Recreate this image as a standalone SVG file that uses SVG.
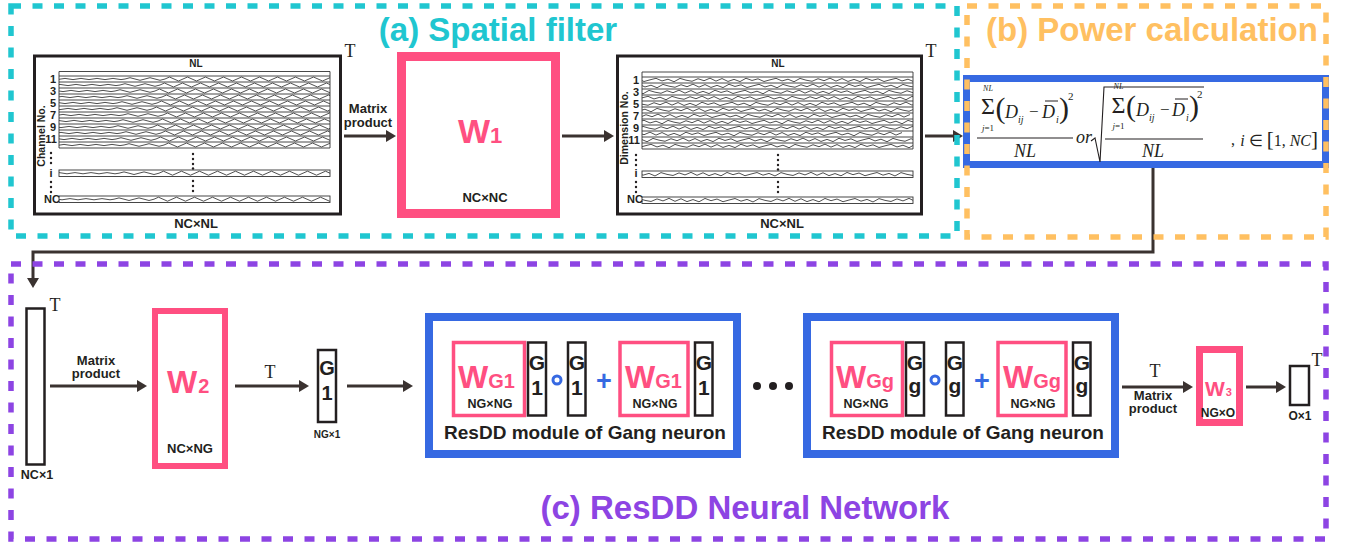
<svg xmlns="http://www.w3.org/2000/svg" width="1345" height="546" viewBox="0 0 1345 546">
<defs>
<style>
.sans{font-family:"Liberation Sans",Arial,sans-serif;font-weight:bold;fill:#231f20}
.serif{font-family:"Liberation Serif","Times New Roman",serif;fill:#231f20}
.it{font-style:italic}
.title{font-family:"Liberation Sans",Arial,sans-serif;font-weight:bold;font-size:33px;text-anchor:middle}
.frame{fill:none;stroke-width:5.5;stroke-dasharray:10 11.5}
.panel{fill:#fff;stroke:#231f20;stroke-width:3}
.strip{fill:none;stroke:#333;stroke-width:0.9}
.wave{fill:none;stroke:#222;stroke-width:0.8;stroke-linejoin:round}
.pink{fill:#fff;stroke:#ff4f81}
.vec{fill:#fff;stroke:#231f20;stroke-width:2.5}
.blue{fill:#fff;stroke:#3669e2;stroke-width:8}
.conn{fill:none;stroke:#3a3230;stroke-width:3}
.w{font-family:"Liberation Sans",Arial,sans-serif;font-weight:bold;fill:#ff4f81}
.mid{text-anchor:middle}
.end{text-anchor:end}
.T{font-family:"Liberation Serif","Times New Roman",serif;font-size:18px;fill:#231f20;text-anchor:middle}
.dot{fill:#231f20}
.fl{stroke:#231f20;stroke-width:1.1;fill:none}
</style>
<marker id="ah" viewBox="0 0 10 12" refX="1" refY="6" markerWidth="10" markerHeight="12" markerUnits="userSpaceOnUse" orient="auto"><path d="M0,0 L10,6 L0,12 z" fill="#3a3230"/></marker>
<path id="wA" class="wave" d="M-30,3 q4,-1.2 8,0 t8,0 t8,0 t8,0 t8,0 t8,0 t8,0 t8,0 t8,0 t8,0 t8,0 t8,0 q5,-2.6 10,0 t10,0 t10,0 t10,0 l4.5,-2 l9,4 l4.5,-2 l4.5,-2 l9,4 l4.5,-2 l4.5,-2 l9,4 l4.5,-2 l4.5,-2 l9,4 l4.5,-2 l4.5,-2 l9,4 l4.5,-2 l4.5,-2 l9,4 l4.5,-2 l4.5,-2 l9,4 l4.5,-2 l4.5,-2 l9,4 l4.5,-2 l4.5,-2 l9,4 l4.5,-2 l4.5,-2 l9,4 l4.5,-2 l4.5,-2 l9,4 l4.5,-2 l4.5,-2 l9,4 l4.5,-2"/>
<polyline id="wB" class="wave" points="-40,1.56 -34,4.44 -28,2.36 -22,4.6 -16,1.24 -10,3.48 -4,1.8 2,4.52 8,2.84 14,1.32 20,3.96 26,2.2 32,4.76 38,1.4 44,3.16 50,4.28 56,1.72 62,3.72 68,1.16 74,4.12 80,1.56 86,4.44 92,2.36 98,4.6 104,1.24 110,3.48 116,1.8 122,4.52 128,2.84 134,1.32 140,3.96 146,2.2 152,4.76 158,1.4 164,3.16 170,4.28 176,1.72 182,3.72 188,1.16 194,4.12 200,1.56 206,4.44 212,2.36 218,4.6 224,1.24 230,3.48 236,1.8 242,4.52 248,2.84 254,1.32 260,3.96 266,2.2 272,4.76 278,1.4 284,3.16 290,4.28 296,1.72 302,3.72 308,1.16 314,4.12 320,1.56"/>
<clipPath id="clipS"><rect x="0" y="0" width="271" height="72"/><rect x="0" y="94" width="271" height="6.5"/><rect x="0" y="120" width="271" height="6.5"/></clipPath>
</defs>
<rect width="1345" height="546" fill="#fff"/>

<!-- Input signal panel -->
<g id="input-signals">
<rect class="panel" x="34.5" y="56" width="306" height="158"/>
<text class="T" x="350" y="57">T</text>
<text class="sans mid" x="196" y="67" font-size="10">NL</text>
<path class="strip" d="M59,76 V71.5 H330 V76"/>
<g transform="translate(59,76)">
<g clip-path="url(#clipS)">
<use href="#wA" x="0" y="0"/><use href="#wA" x="-5" y="6"/><use href="#wA" x="-10" y="12"/><use href="#wA" x="-3" y="18"/>
<use href="#wA" x="-8" y="24"/><use href="#wA" x="-13" y="30"/><use href="#wA" x="-2" y="36"/><use href="#wA" x="-7" y="42"/>
<use href="#wA" x="-12" y="48"/><use href="#wA" x="-4" y="54"/><use href="#wA" x="-9" y="60"/><use href="#wA" x="-1" y="66"/>
<use href="#wA" x="-6" y="94.2"/><use href="#wA" x="-11" y="120.2"/>
</g>
<path class="strip" d="M0,0 H271 M0,6 H271 M0,12 H271 M0,18 H271 M0,24 H271 M0,30 H271 M0,36 H271 M0,42 H271 M0,48 H271 M0,54 H271 M0,60 H271 M0,66 H271 M0,72 H271 M0,0 V72 M271,0 V72"/>
<rect class="strip" x="0" y="94" width="271" height="6.5"/>
<rect class="strip" x="0" y="120" width="271" height="6.5"/>
</g>
<text class="sans end" x="56" y="83" font-size="11">1</text>
<text class="sans end" x="56" y="95" font-size="11">3</text>
<text class="sans end" x="56" y="107" font-size="11">5</text>
<text class="sans end" x="56" y="119" font-size="11">7</text>
<text class="sans end" x="56" y="131" font-size="11">9</text>
<text class="sans end" x="57" y="143" font-size="11">11</text>
<text class="sans mid" transform="translate(45,136) rotate(-90)" font-size="10.5">Channel No.</text>
<circle class="dot" cx="51" cy="153" r="1.2"/><circle class="dot" cx="51" cy="158" r="1.2"/><circle class="dot" cx="51" cy="163" r="1.2"/>
<text class="sans mid" x="51" y="177" font-size="11">i</text>
<circle class="dot" cx="51" cy="182" r="1.2"/><circle class="dot" cx="51" cy="187" r="1.2"/><circle class="dot" cx="51" cy="192" r="1.2"/>
<text class="sans end" x="60" y="203" font-size="11">NC</text>
<circle class="dot" cx="193" cy="154" r="1.2"/><circle class="dot" cx="193" cy="159" r="1.2"/><circle class="dot" cx="193" cy="164" r="1.2"/><circle class="dot" cx="193" cy="168.5" r="1.2"/>
<circle class="dot" cx="193" cy="181" r="1.2"/><circle class="dot" cx="193" cy="186" r="1.2"/><circle class="dot" cx="193" cy="191" r="1.2"/>
<text class="sans mid" x="196" y="228" font-size="13">NC×NL</text>
</g>

<!-- W1 -->
<g id="W1">
<rect class="pink" x="401.5" y="56.5" width="154" height="157" stroke-width="9"/>
<text class="w" x="458" y="143" font-size="34">W<tspan font-size="22">1</tspan></text>
<text class="sans mid" x="485" y="202" font-size="13">NC×NC</text>
</g>

<!-- Filtered signal panel -->
<g id="filtered-signals">
<rect class="panel" x="617.5" y="56" width="304" height="158"/>
<text class="T" x="931" y="57">T</text>
<text class="sans mid" x="778" y="67" font-size="10">NL</text>
<path class="strip" d="M642,77 V72 H913 V77"/>
<g transform="translate(642,77)">
<g clip-path="url(#clipS)">
<use href="#wB" x="0" y="0"/><use href="#wB" x="-17" y="6"/><use href="#wB" x="-31" y="12"/><use href="#wB" x="-8" y="18"/>
<use href="#wB" x="-44" y="24"/><use href="#wB" x="-23" y="30"/><use href="#wB" x="-52" y="36"/><use href="#wB" x="-12" y="42"/>
<use href="#wB" x="-37" y="48"/><use href="#wB" x="-60" y="54"/><use href="#wB" x="-27" y="60"/><use href="#wB" x="-5" y="66"/>
<use href="#wB" x="-19" y="94.2"/><use href="#wB" x="-41" y="120.2"/>
</g>
<path class="strip" d="M0,0 H271 M0,6 H271 M0,12 H271 M0,18 H271 M0,24 H271 M0,30 H271 M0,36 H271 M0,42 H271 M0,48 H271 M0,54 H271 M0,60 H271 M0,66 H271 M0,72 H271 M0,0 V72 M271,0 V72"/>
<rect class="strip" x="0" y="94" width="271" height="6.5"/>
<rect class="strip" x="0" y="120" width="271" height="6.5"/>
</g>
<text class="sans end" x="639" y="84" font-size="11">1</text>
<text class="sans end" x="639" y="96" font-size="11">3</text>
<text class="sans end" x="639" y="108" font-size="11">5</text>
<text class="sans end" x="639" y="120" font-size="11">7</text>
<text class="sans end" x="639" y="132" font-size="11">9</text>
<text class="sans end" x="640" y="144" font-size="11">11</text>
<text class="sans mid" transform="translate(628,128) rotate(-90)" font-size="10.5">Dimension No.</text>
<circle class="dot" cx="636" cy="155" r="1.2"/><circle class="dot" cx="636" cy="160" r="1.2"/><circle class="dot" cx="636" cy="165" r="1.2"/>
<text class="sans mid" x="636" y="177" font-size="11">i</text>
<circle class="dot" cx="636" cy="182" r="1.2"/><circle class="dot" cx="636" cy="187" r="1.2"/><circle class="dot" cx="636" cy="192" r="1.2"/>
<text class="sans end" x="643" y="203" font-size="11">NC</text>
<circle class="dot" cx="778" cy="155" r="1.2"/><circle class="dot" cx="778" cy="160" r="1.2"/><circle class="dot" cx="778" cy="165" r="1.2"/><circle class="dot" cx="778" cy="169.5" r="1.2"/>
<circle class="dot" cx="778" cy="182" r="1.2"/><circle class="dot" cx="778" cy="187" r="1.2"/><circle class="dot" cx="778" cy="192" r="1.2"/>
<text class="sans mid" x="782" y="228" font-size="13">NC×NL</text>
</g>

<!-- Power formula -->
<g id="power-formula">
<rect fill="#fff" stroke="#3669e2" stroke-width="7" x="966.5" y="78.5" width="359" height="86"/>
<g class="serif">
<text class="it mid" x="988" y="90.5" font-size="8">NL</text>
<text class="mid" x="988" y="114" font-size="24">Σ</text>
<text class="mid" x="988" y="131" font-size="9"><tspan font-style="italic">j</tspan>=1</text>
<text x="995.5" y="118" font-size="30">(</text>
<text class="it" x="1005" y="118" font-size="18">D</text>
<text class="it" x="1018" y="123" font-size="10">ij</text>
<text x="1029" y="117" font-size="17">−</text>
<text class="it" x="1042" y="118" font-size="18">D</text>
<text class="it" x="1056" y="123" font-size="10">i</text>
<text x="1059" y="118" font-size="30">)</text>
<text x="1068" y="100" font-size="11">2</text>
<text class="it mid" x="1025" y="157" font-size="18">NL</text>
<text class="it" x="1076" y="143" font-size="18">or</text>
<text class="it mid" x="1118.5" y="88.5" font-size="8">NL</text>
<text class="mid" x="1118.5" y="112.5" font-size="24">Σ</text>
<text class="mid" x="1118.5" y="129" font-size="9"><tspan font-style="italic">j</tspan>=1</text>
<text x="1126" y="116" font-size="30">(</text>
<text class="it" x="1136" y="116" font-size="18">D</text>
<text class="it" x="1149" y="121" font-size="10">ij</text>
<text x="1160" y="115" font-size="17">−</text>
<text class="it" x="1172" y="116" font-size="18">D</text>
<text class="it" x="1186" y="121" font-size="10">i</text>
<text x="1189" y="116" font-size="30">)</text>
<text x="1197" y="98" font-size="11">2</text>
<text class="it mid" x="1153" y="157" font-size="18">NL</text>
<text x="1231" y="145" font-size="16">,</text>
<text class="end" x="1318" y="146" font-size="16"><tspan font-style="italic">i</tspan> ∈ <tspan font-size="21">[</tspan>1, <tspan font-style="italic">NC</tspan><tspan font-size="21">]</tspan></text>
</g>
<path class="fl" d="M1045,101 H1058 M1175,99 H1188 M977,138 H1073 M1105,139 H1203"/>
<path class="fl" d="M1091,141 L1095,138 L1100,162 L1104,87 H1204"/>
</g>

<!-- Bottom row nodes -->
<g id="input-vector">
<rect class="vec" x="26.5" y="308.5" width="18" height="156" stroke-width="3"/>
<text class="T" x="55" y="311">T</text>
<text class="sans mid" x="37" y="479" font-size="12.5">NC×1</text>
</g>
<g id="W2">
<rect class="pink" x="155" y="311" width="70" height="155" stroke-width="6"/>
<text class="w" x="167" y="393" font-size="32">W<tspan font-size="20" dx="1">2</tspan></text>
<text class="sans mid" x="190" y="453" font-size="13">NC×NG</text>
</g>
<g id="G1-vector">
<rect class="vec" x="318" y="350" width="18" height="72"/>
<text class="sans mid" x="327" y="375" font-size="20">G</text>
<text class="sans mid" x="327" y="400" font-size="20">1</text>
<text class="sans mid" x="327" y="438" font-size="10">NG×1</text>
</g>
<g id="resdd-1">
<rect class="blue" x="429" y="317" width="308" height="137"/>
<rect class="pink" x="453.5" y="342.5" width="71" height="73" stroke-width="3.5"/>
<text class="w" x="458" y="388" font-size="32">W<tspan font-size="20">G1</tspan></text>
<text class="sans mid" x="490" y="408" font-size="12.5">NG×NG</text>
<rect class="vec" x="528" y="342.5" width="18" height="73"/>
<text class="sans mid" x="537" y="370" font-size="21">G</text>
<text class="sans mid" x="537" y="395" font-size="21">1</text>
<circle cx="557" cy="380" r="4" fill="#fff" stroke="#3669e2" stroke-width="3"/>
<rect class="vec" x="568" y="342.5" width="17.5" height="73"/>
<text class="sans mid" x="576.8" y="370" font-size="21">G</text>
<text class="sans mid" x="576.8" y="395" font-size="21">1</text>
<text class="sans mid" x="604" y="390" font-size="27" style="fill:#3669e2">+</text>
<rect class="pink" x="620" y="342.5" width="68" height="73" stroke-width="3.5"/>
<text class="w" x="625" y="388" font-size="32">W<tspan font-size="20">G1</tspan></text>
<text class="sans mid" x="655" y="408" font-size="12.5">NG×NG</text>
<rect class="vec" x="695" y="342.5" width="17.5" height="73"/>
<text class="sans mid" x="703.8" y="370" font-size="21">G</text>
<text class="sans mid" x="703.8" y="395" font-size="21">1</text>
<text class="sans mid" x="585" y="439" font-size="19">ResDD module of Gang neuron</text>
</g>
<g id="ellipsis">
<circle class="dot" cx="757" cy="386" r="4"/><circle class="dot" cx="773" cy="386" r="4"/><circle class="dot" cx="789" cy="386" r="4"/>
</g>
<g id="resdd-g" transform="translate(378,0)">
<rect class="blue" x="429" y="317" width="308" height="137"/>
<rect class="pink" x="453.5" y="342.5" width="71" height="73" stroke-width="3.5"/>
<text class="w" x="458" y="388" font-size="32">W<tspan font-size="20">Gg</tspan></text>
<text class="sans mid" x="488" y="408" font-size="12.5">NG×NG</text>
<rect class="vec" x="528" y="342.5" width="18" height="73"/>
<text class="sans mid" x="537" y="370" font-size="21">G</text>
<text class="sans mid" x="537" y="393" font-size="21">g</text>
<circle cx="557" cy="380" r="4" fill="#fff" stroke="#3669e2" stroke-width="3"/>
<rect class="vec" x="568" y="342.5" width="17.5" height="73"/>
<text class="sans mid" x="576.8" y="370" font-size="21">G</text>
<text class="sans mid" x="576.8" y="393" font-size="21">g</text>
<text class="sans mid" x="604" y="390" font-size="27" style="fill:#3669e2">+</text>
<rect class="pink" x="620" y="342.5" width="68" height="73" stroke-width="3.5"/>
<text class="w" x="625" y="388" font-size="32">W<tspan font-size="20">Gg</tspan></text>
<text class="sans mid" x="655" y="408" font-size="12.5">NG×NG</text>
<rect class="vec" x="695" y="342.5" width="17.5" height="73"/>
<text class="sans mid" x="703.8" y="370" font-size="21">G</text>
<text class="sans mid" x="703.8" y="393" font-size="21">g</text>
<text class="sans mid" x="585" y="439" font-size="19">ResDD module of Gang neuron</text>
</g>
<g id="W3">
<rect class="pink" x="1199.5" y="349.5" width="40" height="73" stroke-width="7"/>
<text class="w" x="1205" y="396" font-size="21">W<tspan font-size="11" dx="1">3</tspan></text>
<text class="sans mid" x="1218" y="417" font-size="12">NG×O</text>
</g>
<g id="output-vector">
<rect class="vec" x="1290" y="366" width="19" height="39"/>
<text class="T" x="1317" y="366">T</text>
<text class="sans mid" x="1300" y="420" font-size="12">O×1</text>
</g>

<!-- Connectors -->
<g id="connectors">
<line class="conn" x1="344" y1="136" x2="387" y2="136" marker-end="url(#ah)"/>
<line class="conn" x1="562" y1="136" x2="605" y2="136" marker-end="url(#ah)"/>
<line class="conn" x1="925" y1="136" x2="954" y2="136" marker-end="url(#ah)"/>
<path class="conn" d="M1153,168 V252 H33 V279" marker-end="url(#ah)"/>
<line class="conn" x1="50" y1="386" x2="138" y2="386" marker-end="url(#ah)"/>
<line class="conn" x1="235" y1="386" x2="300" y2="386" marker-end="url(#ah)"/>
<line class="conn" x1="347" y1="386" x2="404" y2="386" marker-end="url(#ah)"/>
<line class="conn" x1="1122" y1="387" x2="1184" y2="387" marker-end="url(#ah)"/>
<line class="conn" x1="1246" y1="387" x2="1277" y2="387" marker-end="url(#ah)"/>
<text class="sans mid" x="368" y="113" font-size="13">Matrix</text>
<text class="sans mid" x="368" y="127" font-size="13">product</text>
<text class="sans mid" x="96" y="365" font-size="13">Matrix</text>
<text class="sans mid" x="96" y="378" font-size="13">product</text>
<text class="T" x="270" y="378">T</text>
<text class="T" x="1155" y="377">T</text>
<text class="sans mid" x="1153" y="400" font-size="13">Matrix</text>
<text class="sans mid" x="1153" y="413" font-size="13">product</text>
</g>

<!-- Section frames and titles -->
<g id="frames">
<rect class="frame" x="11" y="6" width="946" height="230" stroke="#20c6d0"/>
<rect class="frame" x="967" y="6" width="359" height="231" stroke="#ffc061"/>
<rect class="frame" x="11" y="264" width="1315" height="275" stroke="#8d44e3"/>
<text class="title" x="498" y="41" fill="#20c6d0">(a) Spatial filter</text>
<text class="title" x="1152" y="41" fill="#ffc061">(b) Power calculation</text>
<text class="title" x="745" y="519" fill="#8d44e3">(c) ResDD Neural Network</text>
</g>
</svg>
